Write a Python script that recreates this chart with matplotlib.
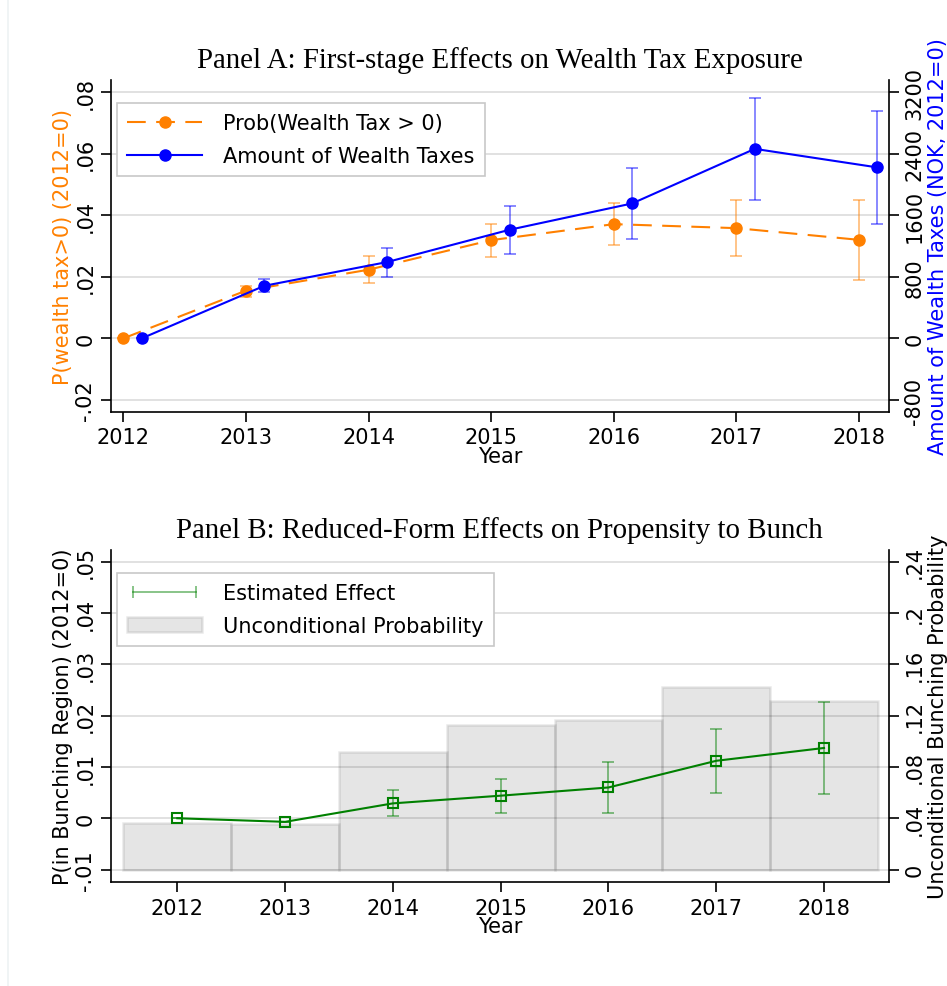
"""
Event-study figure: wealth tax exposure (panel A) and bunching (panel B).
"""
import numpy as np
import matplotlib
matplotlib.use('Agg')
import matplotlib.pyplot as plt
from matplotlib.lines import Line2D
from matplotlib.patches import Patch
from matplotlib.ticker import FuncFormatter

plt.rcParams['font.family'] = 'DejaVu Sans'
plt.rcParams['axes.unicode_minus'] = False

# ---------------- data ----------------
years = [2012, 2013, 2014, 2015, 2016, 2017, 2018]

# Panel A: probability of paying wealth tax (left axis)
prob = [0.0, 0.0155, 0.0223, 0.0319, 0.0371, 0.0358, 0.0320]
prob_lo = [0.0, 0.0134, 0.0180, 0.0265, 0.0303, 0.0266, 0.0190]
prob_hi = [0.0, 0.0171, 0.0266, 0.0372, 0.0440, 0.0451, 0.0449]

# Panel A: amount of wealth taxes in NOK (right axis)
amount = [0, 683, 991, 1411, 1753, 2462, 2221]
amount_lo = [0, 605, 800, 1099, 1290, 1796, 1488]
amount_hi = [0, 774, 1177, 1722, 2212, 3125, 2956]

# Panel B: estimated effect on bunching (left axis)
effect = [0.0, -0.0007, 0.0029, 0.0044, 0.0060, 0.0112, 0.0137]
effect_lo = [0.0, -0.0007, 0.0004, 0.0010, 0.0011, 0.0050, 0.0047]
effect_hi = [0.0, -0.0007, 0.0056, 0.0077, 0.0109, 0.0173, 0.0227]

# Panel B: unconditional bunching probability (right axis)
uncond = [0.0364, 0.0359, 0.0918, 0.1126, 0.1167, 0.1427, 0.1315]

ORANGE = '#ff8000'
BLUE = '#0000ff'
GREEN = '#008000'
GRID = '#dedede'
FS = 15
TFS = 20.8


def stata_fmt(v, pos=None):
    if abs(v) < 1e-12:
        return '0'
    s = ('%.3f' % v).rstrip('0').rstrip('.')
    return s.replace('0.', '.', 1)


def style_axes(ax, ax2):
    for a in (ax, ax2):
        a.spines['top'].set_visible(False)
        a.tick_params(axis='both', length=7, width=1.2, labelsize=FS, pad=4)
        for s in ('left', 'bottom', 'right'):
            a.spines[s].set_linewidth(1.2)
    ax.spines['right'].set_visible(False)
    ax2.spines['left'].set_visible(False)
    ax2.spines['bottom'].set_visible(False)
    for lab in ax.get_yticklabels() + ax2.get_yticklabels():
        lab.set_rotation(90)
        lab.set_va('center')
    ax.yaxis.grid(True, color=GRID, lw=1.3)
    ax.set_axisbelow(True)
    ax.set_xticks(years)
    ax.set_xlabel('Year', fontsize=FS, labelpad=-1)


def make_legend(ax, handles, labels, npts):
    leg = ax.legend(handles, labels, loc='upper left', bbox_to_anchor=(0.0077, 0.93),
                    borderaxespad=0, fontsize=FS, numpoints=npts, handlelength=3.6,
                    fancybox=False, framealpha=1, edgecolor='#c8c8c8', borderpad=0.5,
                    handletextpad=1.0, labelspacing=0.6)
    leg.get_frame().set_linewidth(1.2)
    return leg


fig = plt.figure(figsize=(9.47, 9.87), dpi=100)
fig.add_artist(Line2D([0.0085, 0.0085], [0, 1], color='#eef2f4', lw=1.2))

# ================= Panel A =================
axA = fig.add_axes([0.1169, 0.5816, 0.8219, 0.3366])
axA2 = axA.twinx()
yrA = np.array(years, dtype=float)
yrB = yrA + 0.15

axA.errorbar(yrA, prob,
             yerr=[np.array(prob) - np.array(prob_lo), np.array(prob_hi) - np.array(prob)],
             fmt='none', ecolor=ORANGE, alpha=0.5, elinewidth=1.3, capsize=4, capthick=1.3)
axA.plot(yrA, prob, color=ORANGE, lw=1.5, dashes=(9, 5), marker='o', markersize=8)
axA2.errorbar(yrB, amount,
              yerr=[np.array(amount) - np.array(amount_lo), np.array(amount_hi) - np.array(amount)],
              fmt='none', ecolor=BLUE, alpha=0.5, elinewidth=1.3, capsize=4, capthick=1.3)
axA2.plot(yrB, amount, color=BLUE, lw=1.5, marker='o', markersize=8)

axA.set_xlim(2011.897, 2018.245)
axA.set_ylim(-0.0239, 0.084)
axA.set_yticks([-0.02, 0, 0.02, 0.04, 0.06, 0.08])
axA.yaxis.set_major_formatter(FuncFormatter(stata_fmt))
axA2.set_ylim(-0.0239 * 40000, 0.084 * 40000)
axA2.set_yticks([-800, 0, 800, 1600, 2400, 3200])
style_axes(axA, axA2)
axA.set_ylabel('P(wealth tax>0) (2012=0)', color=ORANGE, fontsize=FS, labelpad=2)
axA2.set_ylabel('Amount of Wealth Taxes (NOK, 2012=0)', color=BLUE, fontsize=FS, labelpad=3)
axA.set_title('Panel A: First-stage Effects on Wealth Tax Exposure',
              family='Liberation Serif', fontsize=TFS, pad=9)

hA = [Line2D([], [], color=ORANGE, lw=1.5, dashes=(9, 5), marker='o', markersize=8),
      Line2D([], [], color=BLUE, lw=1.5, marker='o', markersize=8)]
make_legend(axA2, hA, ['Prob(Wealth Tax > 0)', 'Amount of Wealth Taxes'], 1)

# ================= Panel B =================
axB = fig.add_axes([0.1169, 0.1051, 0.8219, 0.3370])
axB2 = axB.twinx()
axB.set_zorder(axB2.get_zorder() + 1)
axB.patch.set_visible(False)

axB2.bar(years, uncond, width=1.0, facecolor=(0, 0, 0, 0.1),
         edgecolor=(0, 0, 0, 0.09), linewidth=1.8)
axB.errorbar(years, effect,
             yerr=[np.array(effect) - np.array(effect_lo), np.array(effect_hi) - np.array(effect)],
             fmt='none', ecolor=GREEN, alpha=0.5, elinewidth=1.3, capsize=4, capthick=1.3)
axB.plot(years, effect, color=GREEN, lw=1.5, marker='s', markersize=7,
         markerfacecolor='none', markeredgewidth=1.5)

axB.set_xlim(2011.382, 2018.603)
axB.set_ylim(-0.01248, 0.05236)
axB.set_yticks([-0.01, 0, 0.01, 0.02, 0.03, 0.04, 0.05])
axB.yaxis.set_major_formatter(FuncFormatter(stata_fmt))
axB2.set_ylim((-0.01248 + 0.01) * 4, (0.05236 + 0.01) * 4)
axB2.set_yticks([0, 0.04, 0.08, 0.12, 0.16, 0.2, 0.24])
axB2.yaxis.set_major_formatter(FuncFormatter(stata_fmt))
style_axes(axB, axB2)
# grid shows through the translucent bars, so draw it on the back axes
axB.yaxis.grid(False)
for t in axB.get_yticks():
    axB2.axhline((t + 0.01) * 4, color=GRID, lw=1.3, zorder=0)
axB.set_ylabel('P(in Bunching Region) (2012=0)', fontsize=FS, labelpad=2)
axB2.set_ylabel('Unconditional Bunching Probability', fontsize=FS, labelpad=3)
axB.set_title('Panel B: Reduced-Form Effects on Propensity to Bunch',
              family='Liberation Serif', fontsize=TFS, pad=9)

hB = [Line2D([], [], color=GREEN, alpha=0.5, lw=1.3, marker='|', markersize=9,
             markeredgewidth=1.3),
      Patch(facecolor=(0, 0, 0, 0.1), edgecolor=(0, 0, 0, 0.09), linewidth=1.8)]
make_legend(axB, hB, ['Estimated Effect', 'Unconditional Probability'], 2)

plt.savefig('out.png', dpi=100)
